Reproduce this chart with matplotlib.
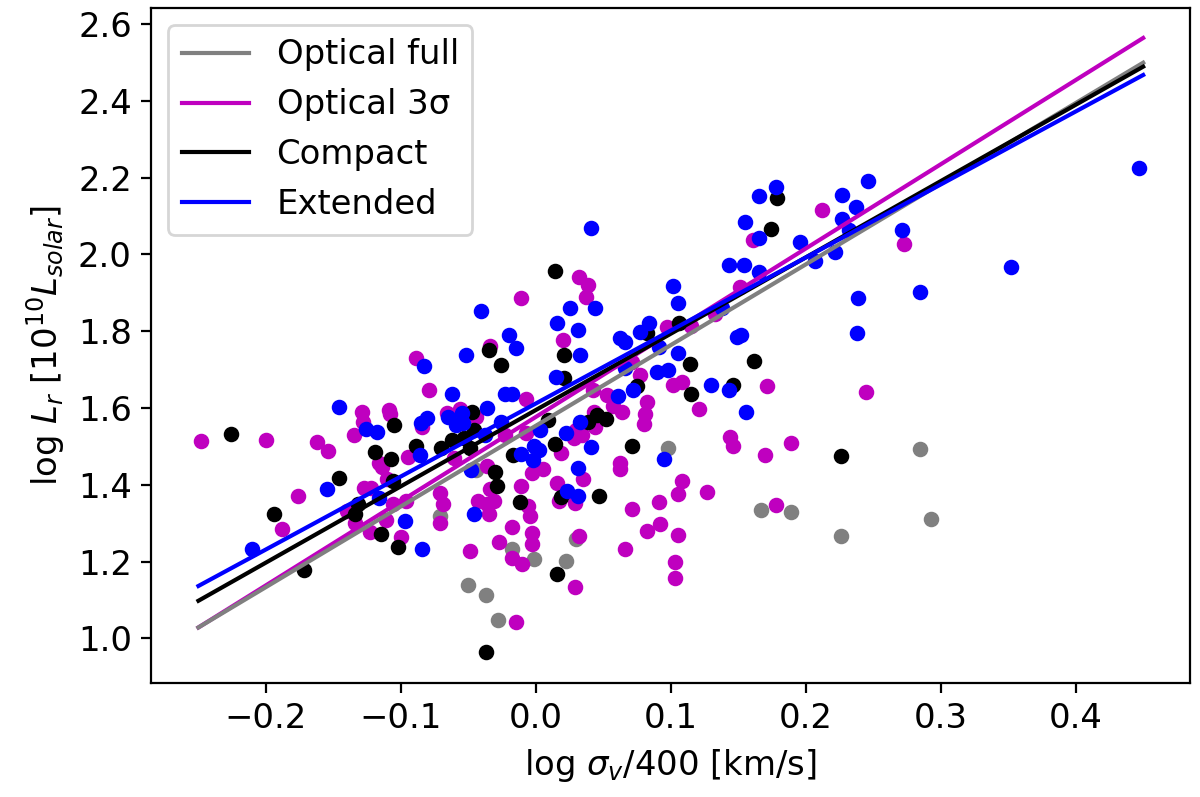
import numpy as np
import matplotlib
matplotlib.use('Agg')
import matplotlib.pyplot as plt

plt.rcParams['font.size'] = 12.2

# ---- data ----
# Optical full sample (grey)
full_x = [0.098, -0.071, 0.030, -0.018, -0.001, 0.022, -0.050, -0.037, -0.028,
          -0.044, 0.167, 0.189, 0.226, 0.285, 0.293]
full_y = [1.496, 1.318, 1.258, 1.232, 1.206, 1.202, 1.138, 1.112, 1.048,
          1.438, 1.334, 1.330, 1.268, 1.494, 1.312]

# Optical 3 sigma sample (magenta)
sig3_x = [-0.248, -0.200, -0.129, -0.128, -0.109, -0.108, -0.135, -0.162, -0.154, -0.116,
          -0.114, -0.095, -0.084, -0.079, -0.176, -0.188, -0.110, -0.127, -0.122, -0.140,
          -0.134, -0.123, -0.111, -0.106, -0.096, -0.100, -0.056, -0.066, -0.044, -0.007,
          -0.007, 0.019, 0.028, 0.034, 0.030, 0.043, 0.044, 0.053, 0.057, 0.064,
          0.082, 0.081, 0.080, 0.062, 0.062, 0.108, 0.105, 0.091, 0.071, 0.035,
          0.016, 0.017, 0.029, 0.005, -0.003, -0.011, -0.006, -0.004, -0.018, -0.003,
          -0.003, 0.032, -0.027, -0.018, -0.010, 0.029, 0.066, 0.082, 0.092, 0.105,
          0.103, 0.103, -0.015, -0.049, -0.071, -0.069, -0.071, -0.043, -0.036, -0.031,
          -0.035, -0.034, -0.036, 0.102, 0.108, 0.171, 0.245, 0.121, 0.144, 0.146,
          0.170, 0.189, 0.127, 0.178, 0.032, 0.039, 0.037, -0.011, 0.020, -0.034,
          -0.089, 0.212, 0.161, 0.151, 0.133, 0.097, 0.115, 0.071, 0.077, 0.042,
          0.273, -0.061, -0.023]
sig3_y = [1.513, 1.518, 1.590, 1.565, 1.594, 1.584, 1.531, 1.511, 1.487, 1.457,
          1.447, 1.473, 1.551, 1.648, 1.370, 1.286, 1.416, 1.392, 1.392, 1.331,
          1.301, 1.278, 1.308, 1.351, 1.357, 1.265, 1.597, 1.587, 1.577, 1.623,
          1.535, 1.483, 1.522, 1.531, 1.544, 1.591, 1.552, 1.635, 1.606, 1.590,
          1.616, 1.584, 1.558, 1.457, 1.442, 1.409, 1.375, 1.355, 1.336, 1.416,
          1.405, 1.357, 1.353, 1.442, 1.431, 1.396, 1.346, 1.318, 1.291, 1.274,
          1.247, 1.268, 1.252, 1.210, 1.195, 1.134, 1.234, 1.281, 1.299, 1.269,
          1.199, 1.157, 1.042, 1.228, 1.379, 1.351, 1.301, 1.357, 1.349, 1.357,
          1.323, 1.388, 1.450, 1.661, 1.669, 1.658, 1.642, 1.597, 1.526, 1.502,
          1.479, 1.509, 1.382, 1.347, 1.942, 1.920, 1.890, 1.888, 1.777, 1.762,
          1.730, 2.115, 2.037, 1.916, 1.845, 1.812, 1.814, 1.721, 1.685, 1.648,
          2.027, 1.470, 1.531]

# Compact sources (black)
comp_x = [-0.226, -0.105, -0.119, -0.107, -0.089, -0.146, -0.194, -0.172, -0.106, -0.132,
          -0.134, -0.115, -0.102, -0.047, -0.046, -0.062, -0.053, -0.049, -0.070, -0.017,
          0.009, 0.014, 0.039, 0.045, 0.052, 0.075, 0.071, 0.047, 0.019, -0.030,
          -0.029, -0.012, 0.016, -0.037, 0.146, 0.115, 0.226, 0.014, -0.035, -0.026,
          0.021, 0.021, 0.179, 0.174, 0.082, 0.106, 0.114, 0.162]
comp_y = [1.533, 1.557, 1.486, 1.468, 1.500, 1.417, 1.325, 1.178, 1.409, 1.351,
          1.323, 1.271, 1.239, 1.590, 1.544, 1.518, 1.522, 1.496, 1.496, 1.479,
          1.568, 1.506, 1.565, 1.583, 1.571, 1.658, 1.500, 1.370, 1.369, 1.433,
          1.398, 1.356, 1.167, 0.964, 1.659, 1.636, 1.476, 1.957, 1.751, 1.712,
          1.738, 1.678, 2.147, 2.066, 1.796, 1.822, 1.715, 1.723]

# Extended sources (blue)
ext_x = [-0.146, -0.126, -0.118, -0.086, -0.085, -0.081, -0.155, -0.210, -0.116, -0.097,
         -0.084, -0.062, -0.023, -0.018, -0.036, -0.055, -0.065, -0.059, -0.054, -0.026,
         -0.038, 0.003, -0.011, -0.001, 0.002, -0.002, 0.022, 0.033, 0.041, 0.061,
         0.072, 0.095, 0.031, 0.023, 0.031, -0.046, -0.048, 0.130, 0.143, 0.156,
         0.041, 0.025, 0.044, -0.041, 0.016, 0.031, -0.020, -0.015, 0.033, -0.052,
         -0.083, 0.015, 0.246, 0.178, 0.165, 0.227, 0.237, 0.227, 0.155, 0.165,
         0.196, 0.207, 0.222, 0.143, 0.154, 0.165, 0.232, 0.102, 0.105, 0.138,
         0.239, 0.238, 0.149, 0.152, 0.084, 0.077, 0.062, 0.066, 0.091, 0.105,
         0.066, 0.090, 0.098, 0.447, 0.271, 0.352, 0.285]
ext_y = [1.603, 1.546, 1.539, 1.479, 1.561, 1.574, 1.390, 1.234, 1.366, 1.305,
         1.234, 1.637, 1.637, 1.637, 1.600, 1.587, 1.578, 1.557, 1.561, 1.565,
         1.531, 1.544, 1.481, 1.500, 1.492, 1.466, 1.535, 1.565, 1.498, 1.632,
         1.648, 1.468, 1.444, 1.385, 1.372, 1.325, 1.440, 1.660, 1.648, 1.591,
         2.068, 1.861, 1.861, 1.853, 1.821, 1.803, 1.790, 1.756, 1.739, 1.738,
         1.710, 1.682, 2.191, 2.177, 2.152, 2.154, 2.124, 2.092, 2.085, 2.042,
         2.032, 1.983, 2.007, 1.972, 1.972, 1.955, 2.063, 1.918, 1.874, 1.860,
         1.886, 1.796, 1.786, 1.790, 1.821, 1.799, 1.782, 1.773, 1.760, 1.743,
         1.704, 1.695, 1.698, 2.226, 2.063, 1.968, 1.903]

# Linear fits (slope, intercept) for each sample
fit_labels = ['Optical full', 'Optical 3σ', 'Compact', 'Extended']
fit_slopes = [2.101, 2.193, 1.987, 1.901]
fit_intercepts = [1.554, 1.577, 1.595, 1.612]
fit_colors = ['gray', 'm', 'k', 'b']
fit_zorder = [4, 3, 5, 6]

fig = plt.figure(figsize=(6, 3.985), dpi=200)
ax = fig.add_subplot(111)
fig.subplots_adjust(left=0.126, right=0.992, top=0.990, bottom=0.143)

ms = 21
ax.scatter(full_x, full_y, s=ms, color='gray', zorder=2)
ax.scatter(sig3_x, sig3_y, s=ms, color='m', zorder=2)
ax.scatter(comp_x, comp_y, s=ms, color='k', zorder=2)
ax.scatter(ext_x, ext_y, s=ms, color='b', zorder=2)

xfit = np.linspace(-0.25, 0.45, 50)
handles = []
for lab, a, b, c, z in zip(fit_labels, fit_slopes, fit_intercepts, fit_colors, fit_zorder):
    ln, = ax.plot(xfit, a * xfit + b, color=c, lw=1.5, label=lab, zorder=z)
    handles.append(ln)

ax.legend(handles=handles, loc='upper left')
ax.set_xlim(-0.285, 0.485)
ax.set_ylim(0.884, 2.642)
ax.set_yticks(np.arange(1.0, 2.61, 0.2))
ax.set_xlabel(r'log $\sigma_v$/400 [km/s]')
ax.set_ylabel(r'log $L_r$ [$10^{10}L_{solar}$]')

plt.savefig('out.png', dpi=200)
